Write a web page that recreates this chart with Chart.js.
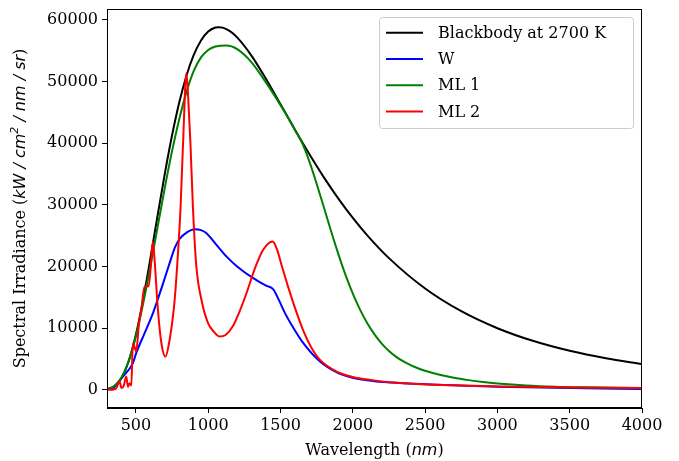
<!DOCTYPE html>
<html>
<head>
<meta charset="utf-8">
<script src="https://cdn.jsdelivr.net/npm/chart.js@4.4.0/dist/chart.umd.min.js"></script>
<style>
  body { margin: 0; background: #fff; }
  #wrap { width: 679px; height: 461px; }
</style>
</head>
<body>
<div id="wrap"><canvas id="chartContainer" width="679" height="461"></canvas></div>
<script>
// series (wavelength in nm, irradiance)
var seriesNames = ["Blackbody at 2700 K", "W", "ML 1", "ML 2"];

var bbWave = [300, 350, 400, 450, 500, 550, 600, 650, 700, 750, 800, 850, 900, 950, 1000, 1050, 1073, 1100, 1150, 1200, 1300, 1400, 1500, 1600, 1700, 1800, 1900, 2000, 2100, 2250, 2500, 2750, 3000, 3250, 3500, 3750, 4000];
var bbIrr  = [95, 554, 1906, 4648, 8969, 14675, 21298, 28272, 35061, 41266, 46611, 50963, 54289, 56637, 58084, 58740, 58800, 58717, 58149, 57135, 54143, 50380, 46293, 42175, 38192, 34451, 31007, 27880, 25053, 21352, 16430, 12750, 9994, 7914, 6332, 5116, 4173];

var wWave = [300, 350, 410, 479, 502, 560, 618, 680, 733, 770, 803, 850, 907, 950, 988, 1057, 1127, 1200, 1311, 1400, 1450, 1490, 1531, 1580, 1658, 1773, 1900, 2005, 2150, 2351, 2583, 3000, 3500, 4000];
var wIrr  = [80, 450, 2160, 4330, 5950, 9200, 12440, 16700, 20540, 23100, 24500, 25500, 26050, 25900, 25400, 23500, 21600, 20000, 18100, 16900, 16300, 14500, 12440, 10400, 7570, 4590, 2700, 1900, 1400, 1080, 810, 500, 300, 150];

var ml1Wave = [300, 350, 400, 450, 500, 550, 600, 650, 700, 750, 800, 850, 900, 950, 1000, 1050, 1125, 1200, 1300, 1400, 1500, 1550, 1600, 1650, 1700, 1750, 1800, 1850, 1900, 1950, 2000, 2050, 2100, 2150, 2200, 2250, 2300, 2350, 2400, 2450, 2500, 2600, 2700, 2800, 2900, 3000, 3200, 3400, 3600, 3800, 4000];
var ml1Irr  = [120, 620, 2000, 4700, 8700, 14000, 20000, 26400, 32800, 38700, 43900, 48300, 51700, 53900, 55100, 55650, 55830, 55250, 53100, 49800, 46150, 44200, 42100, 40000, 37000, 33400, 29600, 25700, 22000, 18600, 15600, 13000, 10800, 9000, 7500, 6300, 5350, 4600, 4000, 3500, 3100, 2450, 1950, 1580, 1280, 1050, 720, 520, 410, 330, 280];

var ml2Wave = [300, 360, 387, 400, 415, 433, 445, 456, 468, 479, 490, 502, 520, 537, 560, 588, 603, 617, 629, 652, 676, 704, 733, 768, 791, 808, 826, 849, 860, 877, 895, 918, 953, 999, 1040, 1080, 1120, 1170, 1220, 1265, 1320, 1380, 1446, 1475, 1510, 1550, 1600, 1656, 1710, 1773, 1889, 2000, 2120, 2300, 2583, 3000, 3500, 4000];
var ml2Irr  = [0, 150, 1350, 300, 600, 2160, 500, 1080, 700, 7570, 7000, 6200, 10500, 12970, 16800, 16800, 20000, 24000, 21100, 13000, 7600, 5400, 8100, 14600, 22200, 29200, 40000, 51350, 48100, 40000, 29200, 20000, 14600, 10800, 9400, 8650, 8900, 10300, 12900, 15700, 19500, 22700, 24050, 22800, 20000, 16900, 13300, 9700, 7000, 4860, 2970, 2100, 1620, 1150, 810, 560, 400, 300];

var seriesColors = ["#000000", "#0000ff", "#008000", "#ff0000"];
var xTicks = [500, 1000, 1500, 2000, 2500, 3000, 3500, 4000];
var yTicks = [0, 10000, 20000, 30000, 40000, 50000, 60000];

var serif = "'DejaVu Serif', serif";
var sans = "'DejaVu Sans', sans-serif";

function pts(xs, ys){
    var out = [];
    for(var i=0; i<xs.length; i++){
        out.push({x: xs[i], y: ys[i]});
    }
    return out;
}

// draw a line of text made of pieces with their own fonts
function drawPieces(ctx, pieces, cx, cy){
    var total = 0;
    for(var i=0;i<pieces.length;i++){
        ctx.font = pieces[i].font;
        pieces[i].w = ctx.measureText(pieces[i].t).width;
        total += pieces[i].w;
    }
    var x = cx - total/2;
    ctx.textAlign = "left";
    ctx.textBaseline = "middle";
    ctx.fillStyle = "#000";
    for(var j=0;j<pieces.length;j++){
        ctx.font = pieces[j].font;
        ctx.fillText(pieces[j].t, x, cy + (pieces[j].dy || 0));
        x += pieces[j].w;
    }
}

var extras = {
    id: "extras",
    afterDraw: function(chart){
        var ctx = chart.ctx;
        var a = chart.chartArea;
        ctx.save();
        // frame
        ctx.strokeStyle = "#000";
        ctx.lineWidth = 1;
        ctx.strokeRect(a.left + 0.5, a.top + 0.5, a.right - a.left - 1, a.bottom - a.top - 1);

        // x title
        drawPieces(ctx, [
            {t: "Wavelength (", font: "16px " + serif},
            {t: "nm", font: "italic 16px " + sans},
            {t: ")", font: "16px " + serif}
        ], (a.left + a.right)/2, 451);

        // y title
        ctx.save();
        ctx.translate(21, (a.top + a.bottom)/2);
        ctx.rotate(-Math.PI/2);
        drawPieces(ctx, [
            {t: "Spectral Irradiance (", font: "16px " + serif},
            {t: "kW / cm", font: "italic 16px " + sans},
            {t: "2", font: "italic 11px " + sans, dy: -6},
            {t: " / nm / sr", font: "italic 16px " + sans},
            {t: ")", font: "16px " + serif}
        ], 0, 0);
        ctx.restore();

        // legend box
        var bx = 379.5, by = 17.5, bw = 254, bh = 111, r = 3;
        ctx.beginPath();
        ctx.moveTo(bx + r, by);
        ctx.arcTo(bx + bw, by, bx + bw, by + bh, r);
        ctx.arcTo(bx + bw, by + bh, bx, by + bh, r);
        ctx.arcTo(bx, by + bh, bx, by, r);
        ctx.arcTo(bx, by, bx + bw, by, r);
        ctx.closePath();
        ctx.fillStyle = "rgba(255,255,255,0.8)";
        ctx.fill();
        ctx.strokeStyle = "#cccccc";
        ctx.stroke();

        var ds = chart.data.datasets;
        for(var i=0;i<ds.length;i++){
            var ly = 32.7 + i*26.3;
            ctx.beginPath();
            ctx.strokeStyle = ds[i].borderColor;
            ctx.lineWidth = 2;
            ctx.moveTo(386, ly);
            ctx.lineTo(423, ly);
            ctx.stroke();
            ctx.fillStyle = "#000";
            ctx.font = "16px " + serif;
            ctx.textAlign = "left";
            ctx.textBaseline = "middle";
            ctx.fillText(ds[i].label, 438, ly + 1);
        }
        ctx.restore();
    }
};

var waves = [bbWave, wWave, ml1Wave, ml2Wave];
var irrs = [bbIrr, wIrr, ml1Irr, ml2Irr];
var datasets = [];
for(var k=0;k<seriesNames.length;k++){
    datasets.push({
        label: seriesNames[k],
        data: pts(waves[k], irrs[k]),
        borderColor: seriesColors[k],
        backgroundColor: seriesColors[k],
        borderWidth: 2,
        pointRadius: 0,
        fill: false,
        cubicInterpolationMode: "monotone",
        order: seriesNames.length - k
    });
}

var myChart = new Chart("chartContainer", {
    type: "line",
    data: { datasets: datasets },
    options: {
        responsive: false,
        animation: false,
        events: [],
        layout: { padding: { left: 0, top: 9, right: 37, bottom: 0 } },
        plugins: {
            legend: { display: false },
            tooltip: { enabled: false }
        },
        scales: {
            x: {
                type: "linear",
                min: 300,
                max: 4000,
                afterFit: function(s){ s.height = 53; s.paddingLeft = 0; s.paddingRight = 0; },
                afterBuildTicks: function(s){ s.ticks = xTicks.map(function(v){ return {value: v}; }); },
                grid: { drawOnChartArea: false, drawTicks: true, tickLength: 5, color: "#000" },
                border: { display: true, color: "#000" },
                ticks: {
                    color: "#000",
                    font: { family: serif, size: 16 },
                    padding: 3,
                    maxRotation: 0,
                    callback: function(v){ return String(v); }
                }
            },
            y: {
                type: "linear",
                min: -2940,
                max: 61740,
                afterFit: function(s){ s.width = 107; s.paddingTop = 0; s.paddingBottom = 0; },
                afterBuildTicks: function(s){ s.ticks = yTicks.map(function(v){ return {value: v}; }); },
                grid: { drawOnChartArea: false, drawTicks: true, tickLength: 5, color: "#000" },
                border: { display: true, color: "#000" },
                ticks: {
                    color: "#000",
                    font: { family: serif, size: 16 },
                    padding: 4,
                    callback: function(v){ return String(v); }
                }
            }
        }
    },
    plugins: [extras]
});
</script>
</body>
</html>
